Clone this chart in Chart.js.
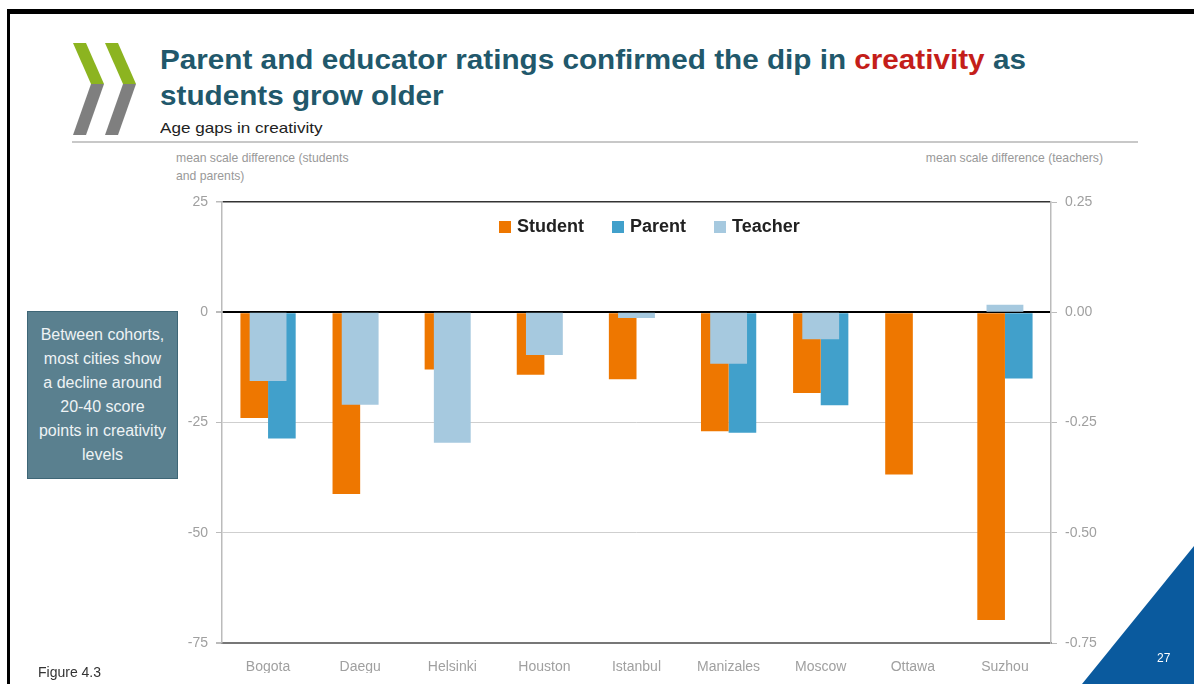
<!DOCTYPE html>
<html>
<head>
<meta charset="utf-8">
<script src="https://cdn.jsdelivr.net/npm/chart.js@4/dist/chart.umd.min.js"></script>
<style>
  html, body { margin: 0; padding: 0; background: #fff; }
  body { width: 1194px; height: 684px; position: relative; overflow: hidden; font-family: "Liberation Sans", Arial, sans-serif; }
  .frame-top { position: absolute; left: 8px; top: 9px; width: 1186px; height: 5px; background: #000; }
  .frame-left { position: absolute; left: 7px; top: 9px; width: 3px; height: 675px; background: #000; }
  #logo { position: absolute; left: 70px; top: 40px; }
  .title { position: absolute; left: 160px; top: 42px; font-size: 28px; line-height: 36px; font-weight: bold; color: #21586b;
           transform: scaleX(1.06); transform-origin: left top; white-space: nowrap; }
  .title .hl { color: #c41e1a; }
  .subtitle { position: absolute; left: 160px; top: 119px; font-size: 15px; color: #222; transform: scaleX(1.14); transform-origin: left top; }
  .rule { position: absolute; left: 72px; top: 141px; width: 1066px; height: 2px; background: #c8c8c8; }
  .axis-title { position: absolute; font-size: 12.2px; line-height: 18px; color: #999; }
  .note { position: absolute; left: 27px; top: 311px; width: 149px; height: 166px; background: #5a808f; border: 1px solid #3e6676;
          color: #eef3f5; font-size: 16px; line-height: 24px; text-align: center; display: flex; align-items: center; justify-content: center; }
  .fig { position: absolute; left: 38px; top: 664px; font-size: 14px; color: #333; }
  #legend { position: absolute; top: 216px; left: 499px; display: flex; font-size: 18px; font-weight: bold; color: #222; }
  #legend .item { display: flex; align-items: center; margin-right: 28px; }
  #legend .box { width: 12px; height: 12px; margin-right: 6px; }
  #corner { position: absolute; left: 0; top: 0; }
  .page { position: absolute; left: 1157px; top: 651px; font-size: 12px; color: #fff; }
  #wrap { position: absolute; left: 0; top: 0; width: 1194px; height: 684px; }
</style>
</head>
<body>
<div class="frame-top"></div>
<div class="frame-left"></div>

<svg id="logo" width="70" height="100" viewBox="0 0 70 100">
  <!-- left chevron -->
  <polygon points="3,3 16,3 34,44 21,44" fill="#8cb420"/>
  <polygon points="21,44 34,44 16,95 3,95" fill="#7f7f7f"/>
  <!-- right chevron -->
  <polygon points="35,3 48,3 66,44 53,44" fill="#8cb420"/>
  <polygon points="53,44 66,44 48,95 35,95" fill="#7f7f7f"/>
</svg>

<div class="title">Parent and educator ratings confirmed the dip in <span class="hl">creativity</span> as<br>students grow older</div>
<div class="subtitle">Age gaps in creativity</div>
<div class="rule"></div>

<div class="axis-title" style="left:176px; top:149px;">mean scale difference (students<br>and parents)</div>
<div class="axis-title" style="right:91px; top:149px; text-align:right;">mean scale difference (teachers)</div>

<div id="wrap"><canvas id="chart" width="1194" height="684"></canvas></div>

<div id="legend"></div>

<div class="note">Between cohorts,<br>most cities show<br>a decline around<br>20-40 score<br>points in creativity<br>levels</div>
<div class="fig">Figure 4.3</div>

<svg id="corner" width="1194" height="684">
  <polygon points="1194,546 1194,684 1082,684" fill="#0a5a9e"/>
</svg>
<div class="page">27</div>

<script>
const cities = ["Bogota", "Daegu", "Helsinki", "Houston", "Istanbul", "Manizales", "Moscow", "Ottawa", "Suzhou"];

// left axis (students and parents)
const student = [-24, -41.2, -13, -14.2, -15.2, -27, -18.3, -36.8, -69.8];
const parent = [-28.6, null, null, null, null, -27.3, -21.1, null, -15];

// right axis (teachers)
const teacher = [-0.156, -0.21, -0.296, -0.097, -0.013, -0.117, -0.061, null, 0.017];

const seriesNames = ["Student", "Parent", "Teacher"];
const seriesColors = ["#ee7700", "#41a0cb", "#a6c9df"];

const leftTicks = [25, 0, -25, -50, -75];
const rightTicks = [0.25, 0, -0.25, -0.5, -0.75];

/* ---------- legend ---------- */
const legendEl = document.getElementById("legend");
seriesNames.forEach((name, i) => {
  const item = document.createElement("div");
  item.className = "item";
  item.innerHTML = `<span class="box" style="background:${seriesColors[i]}"></span>${name}`;
  legendEl.appendChild(item);
});

/* ---------- chart ---------- */
const tickFont = { family: "'Liberation Sans', Arial, sans-serif", size: 14 };

function gridColor(ctx) {
  const v = ctx.tick && ctx.tick.value;
  if (v === 0) return "#000";
  if (v === 25) return "#333";
  if (v === -75) return "#777";
  return "#cfcfcf";
}
function gridWidth(ctx) {
  const v = ctx.tick && ctx.tick.value;
  if (v === 0) return 2;
  if (v === -75) return 2;
  if (v === 25) return 1.5;
  return 1;
}

new Chart(document.getElementById("chart"), {
  type: "bar",
  data: {
    labels: cities,
    datasets: [
      {
        label: seriesNames[0],
        data: student,
        backgroundColor: seriesColors[0],
        yAxisID: "y",
        categoryPercentage: 0.6,
        barPercentage: 1.0,
        order: 1
      },
      {
        label: seriesNames[1],
        data: parent,
        backgroundColor: seriesColors[1],
        yAxisID: "y",
        categoryPercentage: 0.6,
        barPercentage: 1.0,
        order: 1
      },
      {
        // teacher bars sit centred over the pair, on the right axis
        label: seriesNames[2],
        data: teacher,
        backgroundColor: seriesColors[2],
        yAxisID: "y2",
        grouped: false,
        categoryPercentage: 0.4,
        barPercentage: 1.0,
        order: 0
      }
    ]
  },
  options: {
    responsive: false,
    animation: false,
    layout: { padding: { left: 172, right: 93, top: 202, bottom: 11 } },
    plugins: {
      legend: { display: false },
      tooltip: { enabled: false }
    },
    scales: {
      x: {
        type: "category",
        offset: true,
        grid: { display: false },
        border: { color: "#777", width: 2 },
        ticks: { color: "#a0a0a0", font: tickFont, padding: 8 },
        afterFit: s => { s.height = 30; }
      },
      y: {
        position: "left",
        min: -75,
        max: 25,
        afterBuildTicks: s => { s.ticks = leftTicks.map(v => ({ value: v })); },
        grid: { color: gridColor, lineWidth: gridWidth, tickColor: "#bbb", tickLength: 6 },
        border: { color: "#bbb", width: 1.5 },
        ticks: { color: "#a0a0a0", font: tickFont, padding: 8 },
        afterFit: s => { s.width = 50; }
      },
      y2: {
        position: "right",
        min: -0.75,
        max: 0.25,
        afterBuildTicks: s => { s.ticks = rightTicks.map(v => ({ value: v })); },
        grid: { drawOnChartArea: false, tickColor: "#bbb", tickLength: 6 },
        border: { color: "#bbb", width: 1.5 },
        ticks: {
          color: "#a0a0a0",
          font: tickFont,
          padding: 8,
          callback: v => Number(v).toFixed(2)
        },
        afterFit: s => { s.width = 50; }
      }
    }
  }
});
</script>
</body>
</html>
